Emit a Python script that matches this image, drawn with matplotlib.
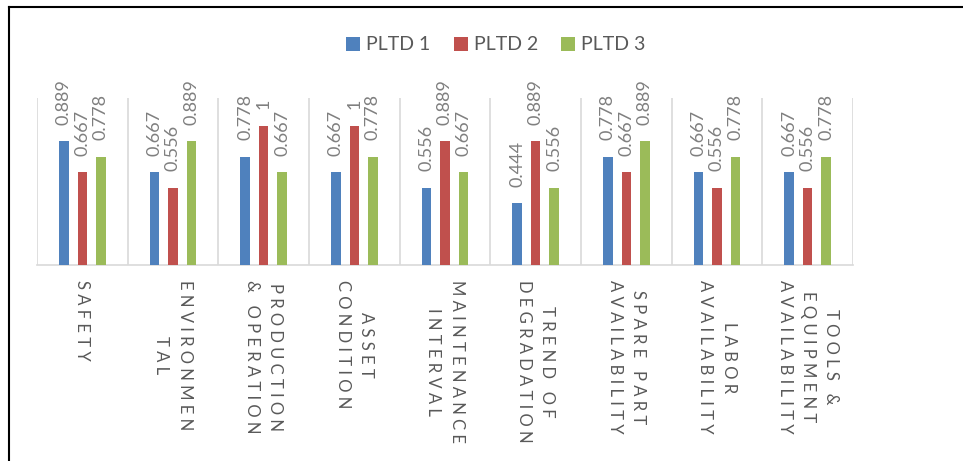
import matplotlib.pyplot as plt
from matplotlib.lines import Line2D
import numpy as np

plt.rcParams['font.family'] = ['Lato', 'DejaVu Sans']

# data
categories = ['SAFETY', 'ENVIRONMEN\nTAL', 'PRODUCTION\n& OPERATION', 'ASSET\nCONDITION',
              'MAINTENANCE\nINTERVAL', 'TREND OF\nDEGRADATION', 'SPARE PART\nAVAILABILITY',
              'LABOR\nAVAILABILITY', 'TOOLS &\nEQUIPMENT\nAVAILABILITY']
series_names = ['PLTD 1', 'PLTD 2', 'PLTD 3']
pltd1 = [0.889, 0.667, 0.778, 0.667, 0.556, 0.444, 0.778, 0.667, 0.667]
pltd2 = [0.667, 0.556, 1, 1, 0.889, 0.889, 0.667, 0.556, 0.556]
pltd3 = [0.778, 0.889, 0.667, 0.778, 0.667, 0.556, 0.889, 0.778, 0.778]

colors = ['#4F81BD', '#C0504D', '#9BBB59']


def spaced(label):
    # Excel-style letter spacing
    return '\n'.join(' '.join(line) for line in label.split('\n'))


fig = plt.figure(figsize=(9.63, 4.61), dpi=100)
ax = fig.add_axes([37 / 963, 1 - 265 / 461, (853 - 37) / 963, (265 - 98) / 461])

x = np.arange(len(categories))
width = 0.105
offsets = [-0.205, 0, 0.205]
for vals, name, col, off in zip([pltd1, pltd2, pltd3], series_names, colors, offsets):
    bars = ax.bar(x + off, vals, width, color=col, label=name, zorder=3)
    ax.bar_label(bars, fmt='{:g}', padding=12, rotation=90, color='#7F7F7F', fontsize=13)

ax.set_xlim(-0.5, len(categories) - 0.5)
ax.set_ylim(0, 1.2)

# category separators
ax.vlines(np.arange(len(categories) + 1) - 0.5, 0, 1.2, color='#D9D9D9', lw=1.2, zorder=1)

ax.set_xticks(x)
ax.set_xticklabels([spaced(c) for c in categories], rotation=-90, ha='center', va='top',
                   multialignment='center', linespacing=1.55, fontsize=12, color='#595959')
ax.tick_params(axis='x', length=0, pad=11)
ax.set_yticks([])
for s in ['left', 'right', 'top']:
    ax.spines[s].set_visible(False)
ax.spines['bottom'].set_color('#D9D9D9')
ax.spines['bottom'].set_linewidth(1.2)

leg = fig.legend(loc='center', bbox_to_anchor=(496 / 963, 1 - 45 / 461), ncol=3, frameon=False,
                 fontsize=14, handlelength=0.72, handleheight=0.72, handletextpad=0.3,
                 columnspacing=1.2)
for t in leg.get_texts():
    t.set_color('#595959')

# frame lines (left and top)
fig.add_artist(Line2D([8.5 / 963, 8.5 / 963], [0, 1 - 7 / 461], color='black', lw=1.5))
fig.add_artist(Line2D([8.5 / 963, 1], [1 - 7.5 / 461, 1 - 7.5 / 461], color='black', lw=1.5))

plt.savefig('out.png', dpi=100)
